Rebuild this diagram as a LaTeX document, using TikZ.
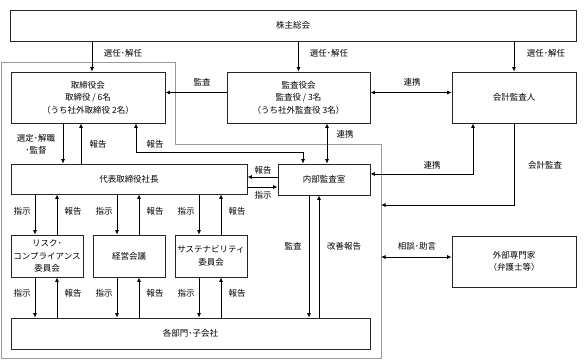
\documentclass[tikz,border=0pt]{standalone}
\usepackage{fontspec}
\setmainfont{Noto Sans CJK JP}
\usepackage{tikz}
\usetikzlibrary{positioning, arrows.meta}
\usepackage{xcolor}

\begin{document}
\begin{tikzpicture}[x=1pt, y=-1pt,
        box/.style={draw=black!85, line width=0.8pt, fill=white, align=center, inner sep=0pt,
                    font=\fontsize{8.5}{12.5}\selectfont},
        lbl/.style={inner sep=0pt, align=center, font=\fontsize{8.5}{12}\selectfont},
        conn/.style={line width=0.8pt, >={Latex[length=4.5pt, width=4pt]}}]

        \useasboundingbox (0,0) rectangle (587,360);

        % Gray frame (company side)
        \draw[black!40, line width=0.8pt] (1,62) -- (175,62) -- (175,144) -- (381,144)
            -- (381,358) -- (1,358) -- cycle;
        \coordinate (frameaudit) at (381,205);
        \coordinate (frameexpert) at (381,257);

        % Top row
        \node[box, minimum width=566, minimum height=31] (sh) at (293,25.5) {株主総会};
        \node[box, minimum width=154, minimum height=51] (board) at (88,97.5)
            {取締役会\\取締役 / 6名\\（うち社外取締役 2名）};
        \node[box, minimum width=143, minimum height=51] (kansa) at (298.5,97.5)
            {監査役会\\監査役 / 3名\\（うち社外監査役 3名）};
        \node[box, minimum width=124, minimum height=51] (auditor) at (514,97.5) {会計監査人};

        % Middle row
        \node[box, minimum width=236, minimum height=30] (ceo) at (129,179) {代表取締役社長};
        \node[box, minimum width=92, minimum height=31] (internal) at (324,179.5) {内部監査室};

        % Committees
        \node[box, minimum width=72, minimum height=42] (risk) at (47,256)
            {リスク･\\コンプライアンス\\委員会};
        \node[box, minimum width=72, minimum height=42] (mgmt) at (129,256) {経営会議};
        \node[box, minimum width=72, minimum height=42] (sust) at (211,256)
            {サステナビリティ\\委員会};
        \node[box, minimum width=124, minimum height=51] (expert) at (514,261.5)
            {外部専門家\\（弁護士等）};

        % Bottom row
        \node[box, minimum width=359, minimum height=31] (dept) at (190.5,333.5) {各部門･子会社};

        % Shareholders meeting
        \draw[conn, ->] ([xshift=4pt]board.north |- sh.south) -- ([xshift=4pt]board.north);
        \draw[conn, ->] (kansa.north |- sh.south) -- (kansa.north);
        \draw[conn, ->] (auditor.north |- sh.south) -- (auditor.north);
        \node[lbl] (lsel1) at (123,53) {選任･解任};
        \node[lbl] (lsel2) at (329,53) {選任･解任};
        \node[lbl] (lsel3) at (546,53) {選任･解任};

        % Audit board
        \draw[conn, ->] ([yshift=5pt]kansa.west) -- ([yshift=5pt]board.east);
        \draw[conn, <->] ([yshift=5pt]kansa.east) -- ([yshift=5pt]auditor.west);
        \node[lbl] (laudit) at (202,82) {監査};
        \node[lbl] (lcoop1) at (412,82) {連携};

        % Board and president
        \draw[conn, ->] ([xshift=-25pt]board.south) -- ([xshift=-25pt]board.south |- ceo.north);
        \draw[conn, ->] ([xshift=-7pt]board.south |- ceo.north) -- ([xshift=-7pt]board.south);
        \draw[conn, <->] ([xshift=48pt]board.south) |- ([xshift=-21pt, yshift=11pt]internal.north)
            -- ([xshift=-21pt]internal.north);
        \node[lbl] (lappoint) at (36,144) {選定･解職\\･監督};
        \node[lbl] (lrep1) at (98,144) {報告};
        \node[lbl] (lrep2) at (155,144) {報告};

        % Internal audit office
        \draw[conn, <->] ([xshift=3pt]internal.north |- kansa.south) -- ([xshift=3pt]internal.north);
        \draw[conn, ->] ([yshift=2.5pt]internal.west) -- ([yshift=2.5pt]internal.west -| ceo.east);
        \draw[conn, ->] ([yshift=-7.5pt]internal.west -| ceo.east) -- ([yshift=-7.5pt]internal.west);
        \draw[conn, <->] ([xshift=-41pt]auditor.south) |- ([yshift=5.5pt]internal.east);
        \draw[conn, ->] (auditor.south) |- (frameaudit);
        \draw[conn, <->] (frameexpert) -- (frameexpert -| expert.west);
        \node[lbl] (lcoop2) at (345,134) {連携};
        \node[lbl] (lrep3) at (263,170) {報告};
        \node[lbl] (linst) at (263,195) {指示};
        \node[lbl] (lcoop3) at (432,165) {連携};
        \node[lbl] (lacct) at (545,165) {会計監査};
        \node[lbl] (lconsult) at (417,246) {相談･助言};

        % Committees: instructions and reports
        \foreach \n in {risk, mgmt, sust} {
            \draw[conn, ->] ([xshift=-12pt]\n.north |- ceo.south) -- ([xshift=-12pt]\n.north);
            \draw[conn, ->] ([xshift=10pt]\n.north) -- ([xshift=10pt]\n.north |- ceo.south);
            \draw[conn, ->] ([xshift=-12pt]\n.south) -- ([xshift=-12pt]\n.south |- dept.north);
            \draw[conn, ->] ([xshift=10pt]\n.south |- dept.north) -- ([xshift=10pt]\n.south);
            \path (\n) ++(-25,-45) node[lbl] (li1-\n) {指示};
            \path (\n) ++(26,-45) node[lbl] (lr1-\n) {報告};
            \path (\n) ++(-25,37) node[lbl] (li2-\n) {指示};
            \path (\n) ++(26,37) node[lbl] (lr2-\n) {報告};
        }

        % Internal audit of departments
        \draw[conn, ->] ([xshift=-15pt]internal.south) -- ([xshift=-15pt]internal.south |- dept.north);
        \draw[conn, ->] ([xshift=-5pt]internal.south |- dept.north) -- ([xshift=-5pt]internal.south);
        \node[lbl] (laudit2) at (293,246) {監査};
        \node[lbl] (limprove) at (344,246) {改善報告};

    \end{tikzpicture}
\end{document}
